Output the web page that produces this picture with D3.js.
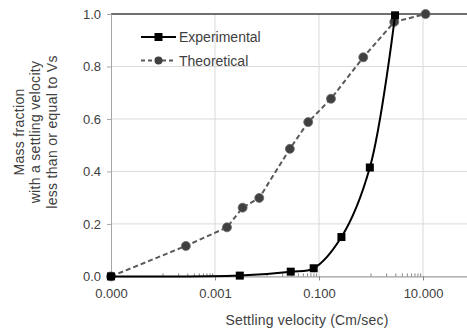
<!DOCTYPE html>
<html>
<head>
<meta charset="utf-8">
<script src="https://cdn.jsdelivr.net/npm/d3@7"></script>
<style>
  body { margin: 0; background: #fff; }
  text { font-family: "Liberation Sans", Arial, sans-serif; fill: #404040; }
</style>
</head>
<body>
<svg width="467" height="332"></svg>
<script>
// Chart data
const expVelocity = [0.00001, 0.003, 0.0286, 0.079, 0.27, 0.95, 2.9];
const expFraction = [0, 0.003, 0.018, 0.031, 0.15, 0.415, 0.995];

const theoVelocity = [0.00001, 0.000275, 0.0017, 0.0034, 0.0071, 0.0275, 0.062, 0.17, 0.71, 2.8, 11.2];
const theoFraction = [0, 0.116, 0.187, 0.262, 0.299, 0.486, 0.588, 0.677, 0.835, 0.97, 1.0];

const xTicks = [0.00001, 0.001, 0.1, 10];
const yTicks = [0, 0.2, 0.4, 0.6, 0.8, 1.0];
const seriesNames = ["Experimental", "Theoretical"];

const svg = d3.select("svg"),
    width = +svg.attr("width"),
    height = +svg.attr("height");

const margin = {left: 111, top: 14, bottom: 56};

// log axis, 2 decades per major step
const x = d3.scaleLog()
    .domain([0.00001, 100])
    .range([margin.left, margin.left + 7 * 52]);

const y = d3.scaleLinear()
    .domain([0, 1])
    .range([height - margin.bottom + 0.4, margin.top]);

// minor ticks (k x 10^-4, 10^-2, 10^0)
const minorTicks = [];
[0.0001, 0.01, 1].forEach(b => {
    for (let k = 1; k <= 9; k++) minorTicks.push(b * k);
});

// gridlines
svg.append("g")
    .selectAll("line.hgrid")
    .data(yTicks.filter(d => d > 0 && d < 1))
    .join("line")
    .attr("x1", margin.left).attr("x2", width)
    .attr("y1", d => y(d)).attr("y2", d => y(d))
    .style("stroke", "#d9d9d9");

svg.append("g")
    .selectAll("line.vgrid")
    .data(xTicks.slice(1))
    .join("line")
    .attr("x1", d => x(d)).attr("x2", d => x(d))
    .attr("y1", y(0)).attr("y2", y(1))
    .style("stroke", "#d9d9d9");

// top border
svg.append("line")
    .attr("x1", margin.left).attr("x2", width)
    .attr("y1", y(1)).attr("y2", y(1))
    .style("stroke", "#404040").style("stroke-width", 1.3);

// y axis
const yAxis = svg.append("g")
    .attr("transform", `translate(${margin.left},0)`)
    .call(d3.axisLeft(y).tickValues(yTicks).tickFormat(d3.format(".1f")).tickSize(4).tickPadding(6));
yAxis.select(".domain").style("stroke", "#a6a6a6");
yAxis.selectAll(".tick line").style("stroke", "#a6a6a6");
yAxis.selectAll("text").style("font-size", "13px").style("fill", "#404040");

// x axis
const xAxis = svg.append("g")
    .attr("transform", `translate(0,${y(0)})`)
    .call(d3.axisBottom(x).tickValues(xTicks).tickFormat(d3.format(".3f")).tickSize(4).tickPadding(8));
xAxis.select(".domain").style("stroke", "#868686");
xAxis.selectAll(".tick line").style("stroke", "#868686");
xAxis.selectAll("text").style("font-size", "13px").style("fill", "#404040");

svg.append("g")
    .selectAll("line")
    .data(minorTicks)
    .join("line")
    .attr("x1", d => x(d)).attr("x2", d => x(d))
    .attr("y1", y(0)).attr("y2", y(0) - 3)
    .style("stroke", "#868686");

// axis titles
svg.append("text")
    .attr("x", 307).attr("y", 325)
    .attr("text-anchor", "middle")
    .style("font-size", "14px")
    .style("letter-spacing", "0.2px")
    .text("Settling velocity (Cm/sec)");

const yTitle = svg.append("text")
    .attr("transform", "translate(35,132) rotate(-90)")
    .attr("text-anchor", "middle")
    .style("font-size", "14px")
    .style("letter-spacing", "0.3px");
["Mass fraction", "with a settling velocity", "less than or equal to Vs"].forEach((t, i) => {
    yTitle.append("tspan").attr("x", 0).attr("y", (i - 1) * 16.5 + 5).text(t);
});

// series
const expData = expVelocity.map((v, i) => [v, expFraction[i]]);
const theoData = theoVelocity.map((v, i) => [v, theoFraction[i]]);

svg.append("path")
    .datum(theoData)
    .attr("d", d3.line().x(d => x(d[0])).y(d => y(d[1])))
    .style("fill", "none")
    .style("stroke", "#595959")
    .style("stroke-width", 2)
    .style("stroke-dasharray", "5,3");

svg.append("g")
    .selectAll("circle")
    .data(theoData)
    .join("circle")
    .attr("cx", d => x(d[0]))
    .attr("cy", d => y(d[1]))
    .attr("r", 4.5)
    .style("fill", "#404040")
    .style("stroke", "#6a6a6a")
    .style("stroke-width", 0.8);

svg.append("path")
    .datum(expData)
    .attr("d", d3.line().curve(d3.curveCatmullRom).x(d => x(d[0])).y(d => y(d[1])))
    .style("fill", "none")
    .style("stroke", "#000")
    .style("stroke-width", 2);

svg.append("g")
    .selectAll("rect")
    .data(expData)
    .join("rect")
    .attr("x", d => x(d[0]) - 4)
    .attr("y", d => y(d[1]) - 4)
    .attr("width", 8)
    .attr("height", 8)
    .style("fill", "#000");

// legend
const legend = svg.append("g");
seriesNames.forEach((name, i) => {
    const ly = 37 + i * 23.5;
    legend.append("line")
        .attr("x1", 141).attr("x2", 176)
        .attr("y1", ly).attr("y2", ly)
        .style("stroke", i === 0 ? "#000" : "#595959")
        .style("stroke-width", 2)
        .style("stroke-dasharray", i === 0 ? null : "4,3");
    if (i === 0) {
        legend.append("rect")
            .attr("x", 154.5).attr("y", ly - 4).attr("width", 8).attr("height", 8)
            .style("fill", "#000");
    } else {
        legend.append("circle")
            .attr("cx", 158.5).attr("cy", ly).attr("r", 4)
            .style("fill", "#404040");
    }
    legend.append("text")
        .attr("x", 179).attr("y", ly + 5)
        .style("font-size", "14px")
        .text(name);
});
</script>
</body>
</html>
